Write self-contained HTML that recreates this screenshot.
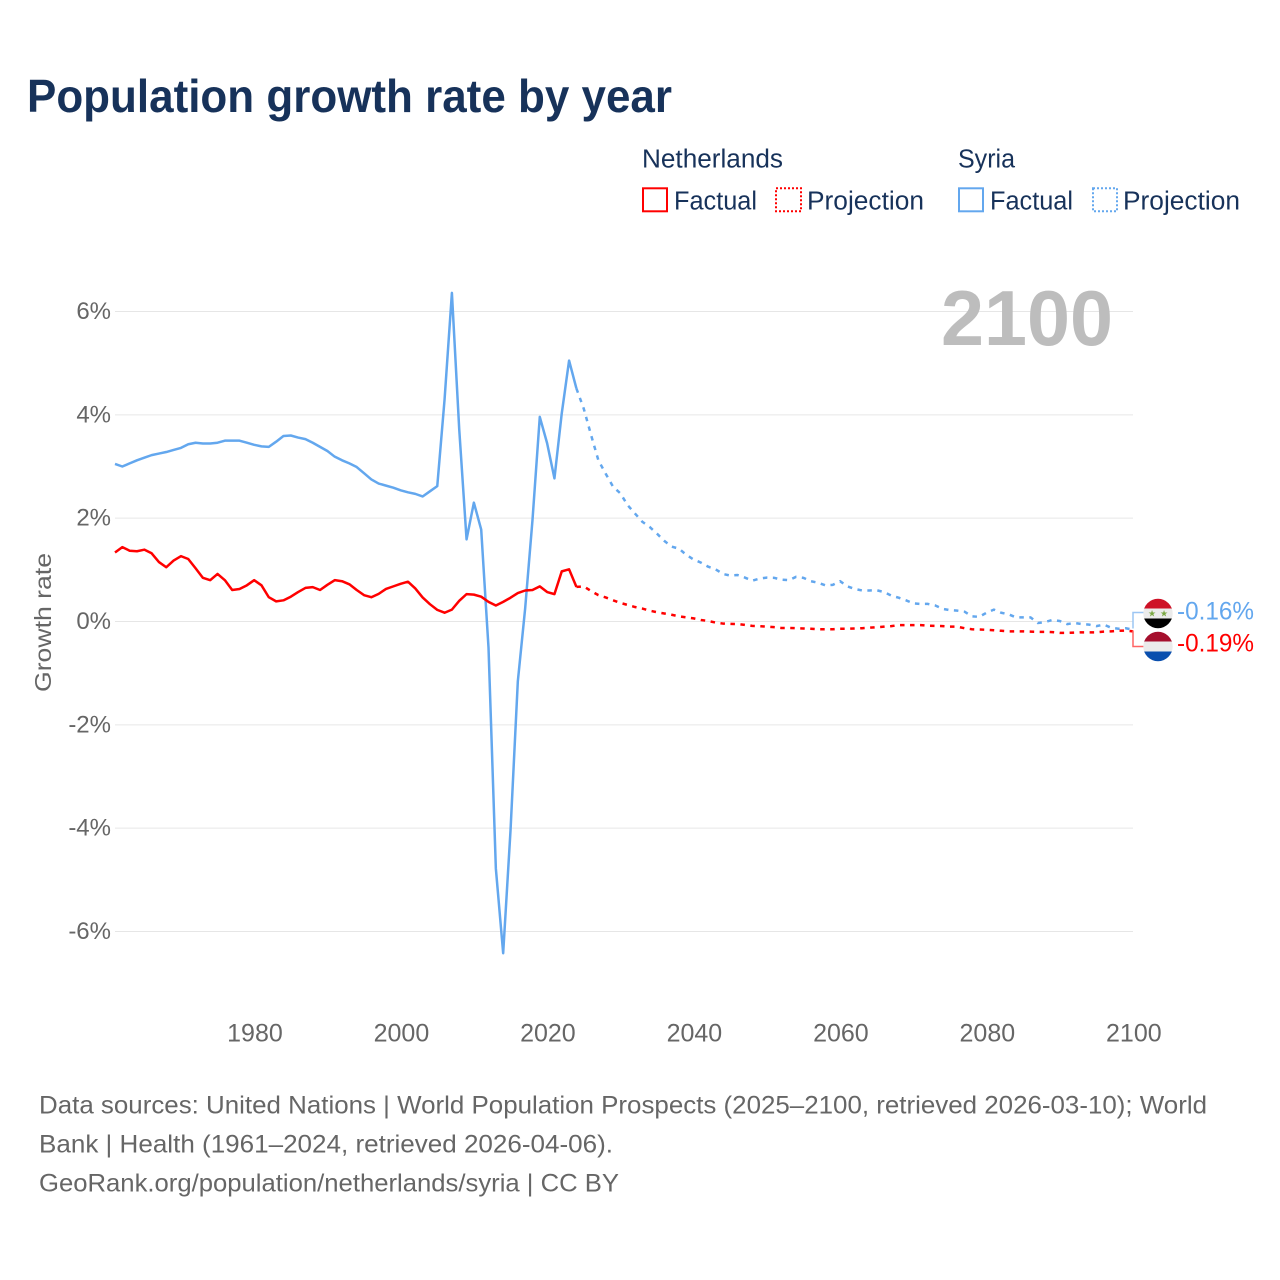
<!DOCTYPE html>
<html lang="en">
<head>
<meta charset="utf-8">
<title>Population growth rate by year</title>
<style>
html,body{margin:0;padding:0;background:#fff;}
svg{display:block;font-family:"Liberation Sans",sans-serif;}
</style>
</head>
<body>
<svg id="chart" width="1280" height="1280" viewBox="0 0 1280 1280" xmlns="http://www.w3.org/2000/svg">
  <rect width="1280" height="1280" fill="#ffffff"/>
  <text x="27" y="112" font-size="46" font-weight="bold" fill="#17325a" textLength="645" lengthAdjust="spacingAndGlyphs">Population growth rate by year</text>

  <g font-size="25.5" fill="#17325a">
    <text x="642" y="167.5" textLength="141" lengthAdjust="spacingAndGlyphs">Netherlands</text>
    <text x="958" y="167.5" textLength="57" lengthAdjust="spacingAndGlyphs">Syria</text>
    <g>
      <rect x="643" y="188.3" width="24" height="23" fill="none" stroke="#ff0000" stroke-width="2"/>
      <text x="674" y="209.5" textLength="83" lengthAdjust="spacingAndGlyphs">Factual</text>
    </g>
    <g>
      <rect x="776" y="188.3" width="25" height="23" fill="none" stroke="#ff0000" stroke-width="2" stroke-dasharray="2 2"/>
      <text x="807" y="209.5" textLength="117" lengthAdjust="spacingAndGlyphs">Projection</text>
    </g>
    <g>
      <rect x="959" y="188.3" width="24" height="23" fill="none" stroke="#63a7ee" stroke-width="2"/>
      <text x="990" y="209.5" textLength="83" lengthAdjust="spacingAndGlyphs">Factual</text>
    </g>
    <g>
      <rect x="1093" y="188.3" width="24" height="23" fill="none" stroke="#63a7ee" stroke-width="2" stroke-dasharray="2 2"/>
      <text x="1123" y="209.5" textLength="117" lengthAdjust="spacingAndGlyphs">Projection</text>
    </g>
  </g>

  <g id="grid"></g>
  <g id="yticks"></g>
  <g id="xticks"></g>

  <text x="0" y="0" transform="translate(51 622.5) rotate(-90)" text-anchor="middle" font-size="23" fill="#666666" textLength="139" lengthAdjust="spacingAndGlyphs">Growth rate</text>
  <text x="941" y="345" font-size="78" font-weight="bold" fill="#bdbdbd" textLength="172" lengthAdjust="spacingAndGlyphs">2100</text>

  <g id="series"></g>

  <g>
    <path d="M1133 628.5V612.5H1144" fill="none" stroke="#9cc6f3" stroke-width="1.5"/>
    <path d="M1133 630.5V646.5H1144" fill="none" stroke="#ff6464" stroke-width="1.5"/>
    <defs>
      <clipPath id="clip-sy"><circle cx="1158" cy="613.5" r="14.7"/></clipPath>
      <clipPath id="clip-nl"><circle cx="1158" cy="646.5" r="14.7"/></clipPath>
    </defs>
    <g clip-path="url(#clip-sy)">
      <rect x="1143" y="598" width="30" height="11" fill="#ce1126"/>
      <rect x="1143" y="608.5" width="30" height="10" fill="#ebebeb"/>
      <rect x="1143" y="618.5" width="30" height="11" fill="#000000"/>
      <text x="1152" y="616.5" font-size="9" fill="#7aa843" text-anchor="middle" font-family="'DejaVu Sans',sans-serif">★</text>
      <text x="1164" y="616.5" font-size="9" fill="#7aa843" text-anchor="middle" font-family="'DejaVu Sans',sans-serif">★</text>
    </g>
    <g clip-path="url(#clip-nl)">
      <rect x="1143" y="631" width="30" height="11" fill="#a50f2d"/>
      <rect x="1143" y="641.5" width="30" height="10" fill="#ebebeb"/>
      <rect x="1143" y="651.5" width="30" height="11" fill="#0a4fae"/>
    </g>
    <text x="1177" y="619.5" font-size="25" fill="#63a7ee" textLength="77" lengthAdjust="spacingAndGlyphs">-0.16%</text>
    <text x="1177" y="651.5" font-size="25" fill="#ff0000" textLength="77" lengthAdjust="spacingAndGlyphs">-0.19%</text>
  </g>

  <g font-size="25" fill="#666666">
    <text x="39" y="1113.5" textLength="1168" lengthAdjust="spacingAndGlyphs">Data sources: United Nations | World Population Prospects (2025–2100, retrieved 2026-03-10); World</text>
    <text x="39" y="1152.5" textLength="574" lengthAdjust="spacingAndGlyphs">Bank | Health (1961–2024, retrieved 2026-04-06).</text>
    <text x="39" y="1191.5" textLength="580" lengthAdjust="spacingAndGlyphs">GeoRank.org/population/netherlands/syria | CC BY</text>
  </g>
</svg>
<script>
const factualStartYear = 1961;
const projectionStartYear = 2025;
const xTickLabels = [1980, 2000, 2020, 2040, 2060, 2080, 2100];
const yTickValues = [6, 4, 2, 0, -2, -4, -6];

const netherlandsFactual = [1.335,1.44,1.37,1.36,1.39,1.32,1.15,1.05,1.18,1.265,1.21,1.03,0.845,0.80,0.92,0.80,0.61,0.63,0.70,0.80,0.70,0.47,0.39,0.41,0.48,0.57,0.65,0.665,0.61,0.71,0.80,0.78,0.72,0.61,0.51,0.47,0.535,0.63,0.68,0.73,0.77,0.64,0.465,0.335,0.225,0.17,0.23,0.40,0.53,0.52,0.48,0.38,0.31,0.38,0.46,0.55,0.60,0.61,0.68,0.57,0.53,0.97,1.01,0.67];
const netherlandsProjection = [0.68,0.59,0.51,0.465,0.41,0.36,0.32,0.28,0.25,0.21,0.18,0.155,0.13,0.10,0.08,0.06,0.03,0.01,-0.02,-0.04,-0.045,-0.05,-0.065,-0.085,-0.09,-0.10,-0.11,-0.125,-0.125,-0.13,-0.135,-0.14,-0.15,-0.15,-0.15,-0.14,-0.14,-0.135,-0.13,-0.12,-0.11,-0.10,-0.09,-0.07,-0.07,-0.07,-0.07,-0.08,-0.085,-0.09,-0.10,-0.10,-0.13,-0.15,-0.155,-0.16,-0.17,-0.18,-0.19,-0.19,-0.19,-0.195,-0.20,-0.20,-0.205,-0.22,-0.22,-0.215,-0.21,-0.21,-0.21,-0.195,-0.19,-0.18,-0.175,-0.19];
const syriaFactual = [3.05,3.00,3.06,3.12,3.17,3.22,3.25,3.28,3.32,3.36,3.43,3.46,3.445,3.445,3.46,3.50,3.50,3.50,3.46,3.42,3.39,3.38,3.48,3.59,3.60,3.56,3.53,3.46,3.38,3.30,3.19,3.12,3.06,2.99,2.87,2.75,2.67,2.63,2.59,2.54,2.50,2.47,2.42,2.52,2.62,4.3,6.36,3.72,1.59,2.30,1.78,-0.51,-4.78,-6.42,-4.05,-1.16,0.25,1.96,3.96,3.45,2.77,4.03,5.05,4.51];
const syriaProjection = [4.12,3.61,3.12,2.86,2.61,2.48,2.25,2.09,1.93,1.83,1.70,1.56,1.45,1.41,1.29,1.20,1.14,1.06,1.01,0.92,0.89,0.90,0.85,0.79,0.83,0.85,0.845,0.81,0.80,0.865,0.845,0.78,0.75,0.70,0.71,0.78,0.68,0.63,0.60,0.60,0.605,0.57,0.50,0.46,0.41,0.35,0.34,0.34,0.31,0.245,0.22,0.21,0.19,0.10,0.09,0.17,0.23,0.17,0.14,0.08,0.08,0.08,-0.03,-0.01,0.03,0.01,-0.05,-0.03,-0.05,-0.06,-0.09,-0.06,-0.12,-0.14,-0.13,-0.16];

const SVG_NS = 'http://www.w3.org/2000/svg';
const xOf = year => 115 + (year - 1961) * 7.324;
const yOf = pct => 621.5 - pct * 51.667;

function tickLabel(v) {
  return v + '%';
}

function buildPath(values, firstYear, prefix) {
  let d = prefix;
  values.forEach((v, i) => {
    d += (d ? 'L' : 'M') + xOf(firstYear + i).toFixed(2) + ' ' + yOf(v).toFixed(2);
  });
  return d;
}

const gridGroup = document.getElementById('grid');
const yTickGroup = document.getElementById('yticks');
const xTickGroup = document.getElementById('xticks');
const seriesGroup = document.getElementById('series');

yTickValues.forEach(v => {
  const line = document.createElementNS(SVG_NS, 'line');
  line.setAttribute('x1', 115);
  line.setAttribute('x2', 1133);
  line.setAttribute('y1', yOf(v));
  line.setAttribute('y2', yOf(v));
  line.setAttribute('stroke', '#e6e6e6');
  line.setAttribute('stroke-width', 1);
  
  
  gridGroup.appendChild(line);

  const label = document.createElementNS(SVG_NS, 'text');
  label.setAttribute('x', 111);
  label.setAttribute('y', yOf(v) + 7.5);
  label.setAttribute('text-anchor', 'end');
  label.setAttribute('font-size', 24);
  label.setAttribute('fill', '#666666');
  
  
  label.textContent = tickLabel(v);
  yTickGroup.appendChild(label);
});

xTickLabels.forEach(year => {
  const label = document.createElementNS(SVG_NS, 'text');
  label.setAttribute('x', xOf(year) + 0.8);
  label.setAttribute('y', 1041.5);
  label.setAttribute('text-anchor', 'middle');
  label.setAttribute('font-size', 25);
  label.setAttribute('fill', '#666666');
  
  
  label.textContent = year;
  xTickGroup.appendChild(label);
});

function addLine(values, firstYear, color, dashed, name, joinFrom) {
  const path = document.createElementNS(SVG_NS, 'path');
  const prefix = joinFrom === null ? '' : 'M' + xOf(firstYear - 1).toFixed(2) + ' ' + yOf(joinFrom).toFixed(2);
  path.setAttribute('d', buildPath(values, firstYear, prefix));
  path.setAttribute('fill', 'none');
  path.setAttribute('stroke', color);
  path.setAttribute('stroke-width', 2.5);
  path.setAttribute('stroke-linejoin', 'round');
  if (dashed) {
    path.setAttribute('stroke-dasharray', '4.5 5.5');
  }
  
  
  seriesGroup.appendChild(path);
}

addLine(syriaFactual, factualStartYear, '#63a7ee', false, 'syria-factual-line', null);
addLine(syriaProjection, projectionStartYear, '#63a7ee', true, 'syria-projection-line', syriaFactual[syriaFactual.length - 1]);
addLine(netherlandsFactual, factualStartYear, '#ff0000', false, 'netherlands-factual-line', null);
addLine(netherlandsProjection, projectionStartYear, '#ff0000', true, 'netherlands-projection-line', netherlandsFactual[netherlandsFactual.length - 1]);
</script>
</body>
</html>
